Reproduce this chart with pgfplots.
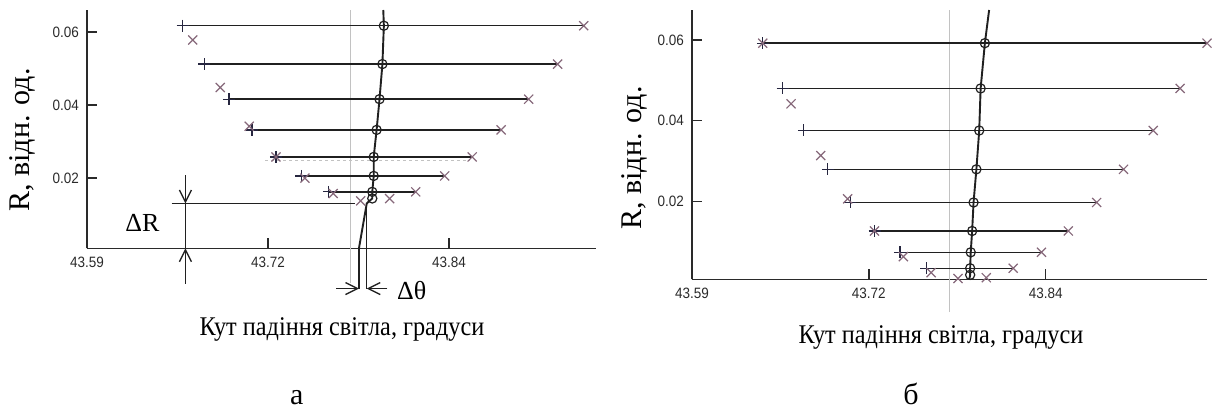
\documentclass[border=0pt]{standalone}
\usepackage{fontspec}
\setmainfont{Liberation Serif}
\newfontfamily\ticksans{Liberation Sans}
\usepackage{graphicx}
\usepackage{pgfplots}
\usepackage{pgfplotstable}
\pgfplotsset{compat=1.18}
\usetikzlibrary{arrows.meta}

\definecolor{axiscol}{HTML}{2A2A2A}
\definecolor{linecol}{HTML}{202020}
\definecolor{pluscol}{HTML}{26263F}
\definecolor{crosscol}{HTML}{86687A}
\definecolor{guidecol}{HTML}{C2C2C2}

\newcommand\tl[1]{\scalebox{0.9}[1]{#1}}

% panel (a): R, left end, centre, right end of each scan
\pgfplotstableread{
R xl xc xr
0.0617 43.656 43.795 43.933
0.0512 43.671 43.794 43.915
0.0416 43.688 43.792 43.895
0.0332 43.704 43.790 43.876
0.0258 43.7205 43.788 43.856
0.0206 43.738 43.788 43.837
0.01625 43.757 43.787 43.817
}\rowsA
\pgfplotstableread{
x R
43.663 0.0578
43.682 0.0448
43.702 0.0342
43.7205 0.0258
43.7405 0.0200
43.760 0.0158
43.779 0.01378
43.799 0.0144
}\crossA
\pgfplotstableread{
x R
43.7946 0.0660
43.795 0.0617
43.794 0.0512
43.792 0.0416
43.790 0.0332
43.788 0.0258
43.788 0.0206
43.787 0.01625
43.787 0.01444
43.7832 0.0131
43.7778 0.0008
}\curveA

% panel (b)
\pgfplotstableread{
R xl xc xr
0.0592 43.640 43.797 43.954
0.0480 43.654 43.794 43.935
0.0376 43.669 43.793 43.916
0.0280 43.686 43.791 43.895
0.0198 43.702 43.789 43.876
0.01275 43.719 43.788 43.856
0.00748 43.737 43.787 43.837
0.00353 43.7555 43.7866 43.817
}\rowsB
\pgfplotstableread{
x R
43.640 0.0592
43.660 0.0442
43.681 0.0314
43.700 0.0207
43.719 0.01275
43.7394 0.0064
43.759 0.00244
43.778 0.0010
43.798 0.0012
}\crossB
\pgfplotstableread{
x R
43.800 0.0674
43.797 0.0592
43.794 0.0480
43.793 0.0376
43.791 0.0280
43.789 0.0198
43.788 0.01275
43.787 0.00748
43.7866 0.00353
43.7866 0.0019
43.786 0.0008
}\curveB

\pgfplotsset{
  panel/.style={
    scale only axis, clip=false,
    axis lines*=left,
    axis line style={axiscol, line width=1.5pt},
    tick align=inside, major tick length=10pt,
    xtick pos=left, ytick pos=left,
    scaled ticks=false,
    tick style={axiscol, line width=1.3pt},
    xtick={43.59,43.715,43.84},
    xticklabels={\tl{43.59},\tl{43.72},\tl{43.84}},
    ytick={0.02,0.04,0.06},
    yticklabels={\tl{0.02},\tl{0.04},\tl{0.06}},
    tick label style={font=\ticksans\fontsize{15}{15}\selectfont, text=axiscol},
    xticklabel style={inner sep=0pt, yshift=-9pt},
    yticklabel style={inner sep=0pt, xshift=-8pt},
    xlabel style={font=\fontsize{27}{27}\selectfont, anchor=base},
    ylabel style={font=\fontsize{30}{30}\selectfont, anchor=center},
    xmin=43.59, ymin=0.0008,
  },
  scans/.style={only marks, mark=o, mark size=4.6pt,
    mark options={linecol, line width=1.2pt},
    error bars/.cd, x dir=both, x explicit, error mark=none,
    error bar style={linecol, line width=1.5pt}},
  pluses/.style={only marks, mark=+, mark size=6pt, mark options={pluscol, line width=1.3pt}},
  crosses/.style={only marks, mark=x, mark size=6.4pt, mark options={crosscol, line width=1.2pt}},
  circles/.style={only marks, mark=o, mark size=4.6pt, mark options={linecol, line width=1.2pt}},
  trend/.style={linecol, line width=1.9pt, mark=none},
  guide/.style={guidecol, line width=1.2pt, mark=none},
  dim/.style={linecol, line width=1.3pt, mark=none},
  dimarrow/.style={dim, -{Straight Barb[length=12pt, width=12pt]}},
}

\begin{document}
\begin{tikzpicture}
\useasboundingbox (0pt,0pt) rectangle (1215pt,-410pt);

% ---------------- panel (a)
\begin{axis}[panel, at={(87pt,-248.3pt)}, anchor=south west,
  width=509pt, height=238.3pt, xmax=43.9415, ymax=0.066,
  xlabel={\scalebox{0.9}[1]{Кут падіння світла, градуси}},
  xlabel style={at={(axis description cs:0.501,-0.3638)}},
  ylabel={R, відн. од.},
  ylabel style={at={(axis description cs:-0.1277,0.4545)}}]
\addplot[guide] coordinates {(43.772,-0.0088) (43.772,0.066)};
\addplot[guide, dashed] coordinates {(43.713,0.0249) (43.8545,0.0249)};
\addplot[scans] table[x=xc, y=R,
  x error plus expr=\thisrow{xr}-\thisrow{xc},
  x error minus expr=\thisrow{xc}-\thisrow{xl}] {\rowsA};
\addplot[trend] table[x=x, y=R] {\curveA};
\addplot[pluses] table[x=xl, y=R] {\rowsA};
\addplot[crosses] table[x=xr, y=R] {\rowsA};
\addplot[crosses] table[x=x, y=R] {\crossA};
\addplot[circles] coordinates {(43.787,0.01444)};
% dimension lines for the offsets
\addplot[dim] coordinates {(43.6485,0.01307) (43.775,0.01307)};
\addplot[dimarrow] coordinates {(43.658,0.0208) (43.658,0.01307)};
\addplot[dim] coordinates {(43.658,0.01307) (43.658,0.0008)};
\addplot[dimarrow] coordinates {(43.658,-0.00885) (43.658,0.0008)};
\addplot[dim] coordinates {(43.7778,0.0008) (43.7778,-0.01022)};
\addplot[dim] coordinates {(43.7832,0.0131) (43.7832,-0.01022)};
\addplot[dimarrow] coordinates {(43.762,-0.01022) (43.7778,-0.01022)};
\addplot[dimarrow] coordinates {(43.7974,-0.01022) (43.7832,-0.01022)};
\end{axis}

% ---------------- panel (b)
\begin{axis}[panel, at={(692pt,-279.3pt)}, anchor=south west,
  width=515pt, height=269.3pt, xmax=43.954, ymax=0.0674,
  xlabel={\scalebox{0.9}[1]{Кут падіння світла, градуси}},
  xlabel style={at={(axis description cs:0.4835,-0.2377)}},
  ylabel={R, відн. од.},
  ylabel style={at={(axis description cs:-0.1126,0.4504)}}]
\addplot[guide] coordinates {(43.772,-0.0073) (43.772,0.0674)};
\addplot[scans] table[x=xc, y=R,
  x error plus expr=\thisrow{xr}-\thisrow{xc},
  x error minus expr=\thisrow{xc}-\thisrow{xl}] {\rowsB};
\addplot[trend] table[x=x, y=R] {\curveB};
\addplot[pluses] table[x=xl, y=R] {\rowsB};
\addplot[crosses] table[x=xr, y=R] {\rowsB};
\addplot[crosses] table[x=x, y=R] {\crossB};
\addplot[circles] coordinates {(43.7866,0.0019)};
\end{axis}

\node[font=\fontsize{26}{26}\selectfont, anchor=base] at (142.5pt,-231.7pt) {ΔR};
\node[font=\fontsize{26}{26}\selectfont, anchor=base] at (411.7pt,-299pt) {Δθ};
\node[font=\fontsize{30}{30}\selectfont, anchor=base] at (296.7pt,-404.5pt) {а};
\node[font=\fontsize{30}{30}\selectfont, anchor=base] at (911pt,-404.5pt) {б};
\end{tikzpicture}
\end{document}
